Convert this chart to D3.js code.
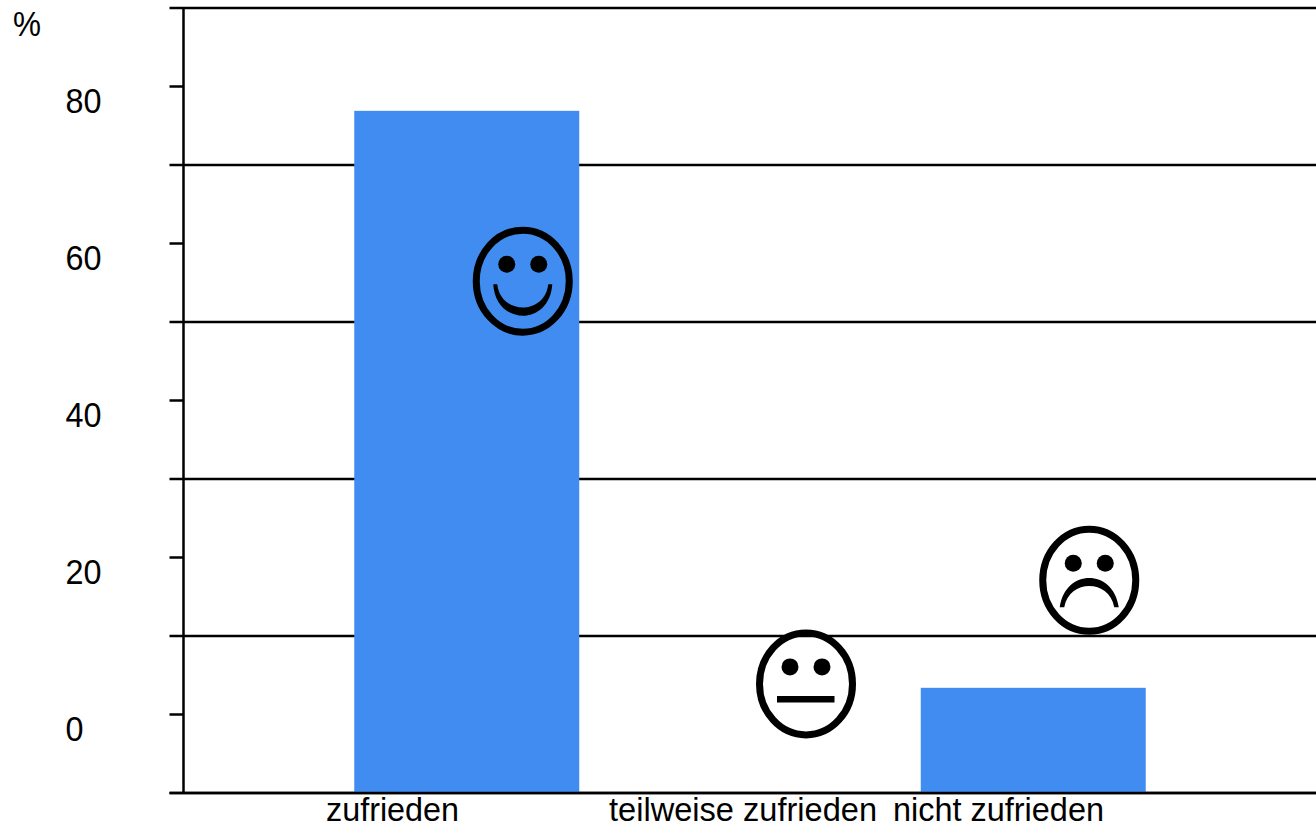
<!DOCTYPE html>
<html>
<head>
<meta charset="utf-8">
<script src="https://d3js.org/d3.v7.min.js"></script>
<style>
  html, body { margin: 0; padding: 0; background: #fff; }
  svg { display: block; }
  text { font-family: "Liberation Sans", Arial, sans-serif; fill: #000; }
</style>
</head>
<body>
<svg id="chart"></svg>
<script>
const categories = ['zufrieden', 'teilweise zufrieden', 'nicht zufrieden'];
const percentValues = [76.9, -10, 3.4];
const faceLevels = [55.2, 3.9, 17.1];
const faceKinds = ['happy', 'neutral', 'sad'];
const labelledTicks = [0, 20, 40, 60, 80];
const gridTicks = [-10, 10, 30, 50, 70, 90];

const width = 1316;
const height = 828;
const margin = { left: 183.5, right: 0, top: 8, bottom: 35 };
const barColor = '#418cf0';
const barWidth = 225;
const lineWidth = 2.5;
const faceShift = 56;
const font = '"Liberation Sans", Arial, sans-serif';
// the category labels sit left of their bars, each by a different amount
const labelShift = [-74.25, -7, -34.75];
// the lettering is a bit squeezed, so widths are forced
const labelLength = [133, 268, 211];
const digitWidth = 18;

const svg = d3.select('#chart').attr('width', width).attr('height', height);

const x = d3
  .scalePoint()
  .domain(categories)
  .range([margin.left, width + 0.5])
  .padding(1);
const y = d3
  .scaleLinear()
  .domain([-10, 90])
  .range([height - margin.bottom, margin.top]);

// long lines at the odd tens, they stick out a bit left of the axis
svg
  .append('g')
  .selectAll('line')
  .data(gridTicks)
  .join('line')
  .attr('x1', margin.left - 14)
  .attr('x2', width)
  .attr('y1', (d) => y(d))
  .attr('y2', (d) => y(d))
  .attr('stroke', '#000')
  .attr('stroke-width', lineWidth);

svg
  .append('g')
  .selectAll('rect')
  .data(categories)
  .join('rect')
  .attr('x', (d) => x(d) - barWidth / 2)
  .attr('y', (_d, i) => y(percentValues[i]))
  .attr('width', barWidth)
  .attr('height', (_d, i) => y(-10) - y(percentValues[i]))
  .attr('fill', barColor);

// bottom line has to stay visible over the bars
svg
  .append('line')
  .attr('x1', margin.left - 14)
  .attr('x2', width)
  .attr('y1', y(-10))
  .attr('y2', y(-10))
  .attr('stroke', '#000')
  .attr('stroke-width', lineWidth);

const yAxis = svg
  .append('g')
  .attr('transform', `translate(${margin.left},0)`)
  .call(d3.axisLeft(y).tickValues(labelledTicks).tickSize(14).tickSizeOuter(0).offset(0));
yAxis.select('.domain').attr('stroke-width', lineWidth);
yAxis.selectAll('.tick line').attr('stroke-width', lineWidth);
yAxis
  .selectAll('.tick text')
  .attr('x', -118)
  .attr('dy', 26)
  .attr('text-anchor', 'start')
  .attr('textLength', (d) => String(d).length * digitWidth)
  .attr('lengthAdjust', 'spacingAndGlyphs')
  .style('font-size', '35px')
  .style('font-family', font);

const xLabels = svg
  .append('g')
  .attr('transform', `translate(0,${y(-10)})`)
  .call(d3.axisBottom(x).tickSize(0).offset(0));
xLabels.select('.domain').remove();
xLabels
  .selectAll('.tick text')
  .attr('x', (_d, i) => labelShift[i])
  .attr('y', 0)
  .attr('dy', 28)
  .attr('text-anchor', 'middle')
  .attr('textLength', (_d, i) => labelLength[i])
  .attr('lengthAdjust', 'spacingAndGlyphs')
  .style('font-size', '34px')
  .style('font-family', font);

svg
  .append('text')
  .attr('x', 13)
  .attr('y', 36)
  .attr('textLength', 28)
  .attr('lengthAdjust', 'spacingAndGlyphs')
  .style('font-size', '35px')
  .text('%');

const mouths = {
  happy: 'M-29.5,3 C-27,45 27,45 29.5,3 L25.5,3 C22,34 -22,34 -25.5,3 Z',
  neutral: 'M-29,12 L28.5,12 L28.5,18.7 L-29,18.7 Z',
  sad: 'M-29.5,27 C-24,-12 24,-12 29.5,27 L25,27 C20,-1.5 -20,-1.5 -25,27 Z',
};

const faces = svg
  .append('g')
  .selectAll('g')
  .data(categories)
  .join('g')
  .attr('transform', (d, i) => `translate(${x(d) + faceShift},${y(faceLevels[i])})`);

faces
  .append('ellipse')
  .attr('rx', 46.5)
  .attr('ry', 51)
  .attr('fill', 'none')
  .attr('stroke', '#000')
  .attr('stroke-width', 7);
faces.append('circle').attr('cx', -16).attr('cy', -17).attr('r', 8.5).attr('fill', '#000');
faces.append('circle').attr('cx', 16).attr('cy', -17).attr('r', 8.5).attr('fill', '#000');
faces
  .append('path')
  .attr('d', (_d, i) => mouths[faceKinds[i]])
  .attr('fill', '#000');
</script>
</body>
</html>
